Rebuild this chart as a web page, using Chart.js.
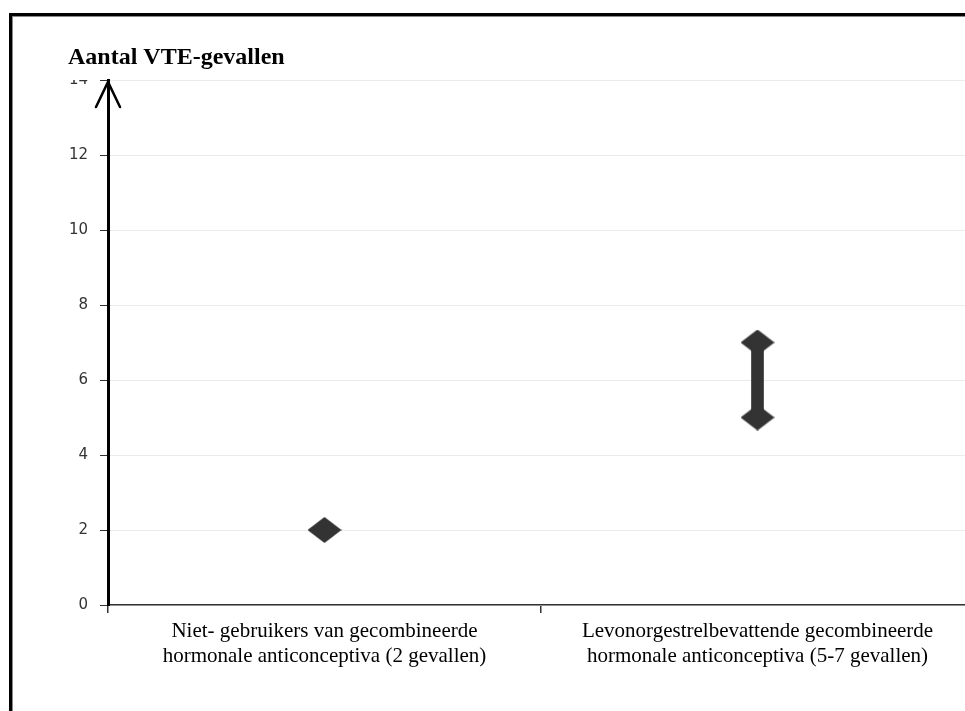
<!DOCTYPE html>
<html>
<head>
<meta charset="utf-8">
<script src="https://cdn.jsdelivr.net/npm/chart.js@4/dist/chart.umd.min.js"></script>
<style>
  html, body { margin:0; padding:0; background:#fff; overflow:hidden; }
  #wrap { position:relative; width:965px; height:711px; overflow:hidden; }
  #box { position:absolute; left:9px; top:13px; width:990px; height:720px;
         border-top:3px solid #000; border-left:3px solid #000;
         box-shadow: inset 1px 1px 0 #888; }
  #cv { position:absolute; left:0; top:0; }
</style>
</head>
<body>
<div id="wrap">
  <div id="box"></div>
  <canvas id="cv" width="980" height="711"></canvas>
</div>
<script>
// data
var categories = [
    ['Niet- gebruikers van gecombineerde', 'hormonale anticonceptiva (2 gevallen)'],
    ['Levonorgestrelbevattende gecombineerde', 'hormonale anticonceptiva (5-7 gevallen)']
];
var lowValues  = [2, 5];
var highValues = [null, 7];
var ranges     = [null, [5, 7]];
var yTicks     = [0, 2, 4, 6, 8, 10, 12, 14];
var yTitle     = 'Aantal VTE-gevallen';

// flattened diamond marker
function makeDiamond(w, h, col){
    var c = document.createElement('canvas');
    c.width = w; c.height = h;
    var g = c.getContext('2d');
    g.fillStyle = col;
    g.beginPath();
    g.moveTo(w/2, 0); g.lineTo(w, h/2); g.lineTo(w/2, h); g.lineTo(0, h/2);
    g.closePath(); g.fill();
    return c;
}
var diamond = makeDiamond(34, 26, '#333');

var overlay = {
    id: 'overlay',
    afterDraw: function(chart){
        var ctx = chart.ctx, ys = chart.scales.y;
        var x0 = chart.chartArea.left, top = ys.getPixelForValue(yTicks[yTicks.length-1]);
        ctx.save();
        // title area hides upper part of top tick label
        ctx.fillStyle = '#fff';
        ctx.fillRect(40, 17, 58, top - 17);
        ctx.fillStyle = '#000';
        ctx.font = 'bold 24px "Liberation Serif"';
        ctx.textBaseline = 'alphabetic';
        ctx.fillText(yTitle, 68, 64);
        // arrow head
        ctx.strokeStyle = '#000';
        ctx.lineWidth = 2.5;
        ctx.lineCap = 'round';
        ctx.beginPath();
        ctx.moveTo(x0 - 12, top + 27);
        ctx.lineTo(x0, top + 2);
        ctx.lineTo(x0 + 12, top + 27);
        ctx.stroke();
        ctx.restore();
    }
};

new Chart(document.getElementById('cv'), {
    data: {
        labels: categories,
        datasets: [
            { type:'line', data: lowValues, showLine:false, pointStyle: diamond, order:0 },
            { type:'line', data: highValues, showLine:false, pointStyle: diamond, order:0 },
            { type:'bar', data: ranges, backgroundColor:'#333', barThickness:12, grouped:false, order:1 }
        ]
    },
    options: {
        responsive:false,
        animation:false,
        devicePixelRatio:1,
        layout: { padding: { left:58, right:6, top:80, bottom:0 } },
        plugins: { legend:{display:false}, tooltip:{enabled:false}, title:{display:false} },
        scales: {
            x: {
                offset:true,
                grid: { offset:true, drawOnChartArea:false, drawTicks:true, tickLength:8, color:'#333', lineWidth:1.5 },
                border: { display:true, color:'#333', width:1.5 },
                ticks: { color:'#000', font:{ family:'"Liberation Serif"', size:21, lineHeight:1.18 }, padding:6, maxRotation:0, autoSkip:false },
                afterFit: function(s){ s.height = 106; }
            },
            y: {
                min:0, max:14,
                afterBuildTicks: function(s){ s.ticks = yTicks.map(function(v){ return {value:v}; }); },
                grid: { color:'#ebebeb', lineWidth:1, tickColor:'#333', tickLength:8, drawTicks:true },
                border: { display:true, color:'#000', width:3 },
                ticks: { color:'#333', font:{ family:'"DejaVu Sans"', size:15 }, padding:12 },
                afterFit: function(s){ s.width = 50; }
            }
        }
    },
    plugins: [overlay]
});
</script>
</body>
</html>
